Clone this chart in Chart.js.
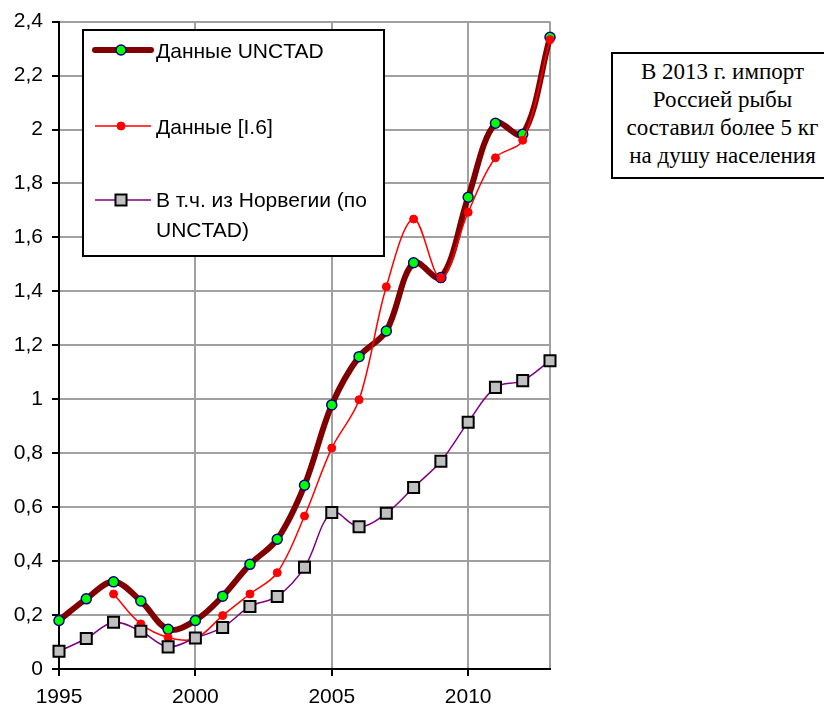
<!DOCTYPE html>
<html>
<head>
<meta charset="utf-8">
<script src="https://cdn.jsdelivr.net/npm/chart.js@4.4.1/dist/chart.umd.min.js"></script>
<style>
  html, body { margin: 0; padding: 0; background: #fff; overflow: hidden; }
  #wrap { position: relative; width: 824px; height: 710px; overflow: hidden; }
  #note {
    position: absolute; left: 611px; top: 52px; width: 213px; height: 127px;
    box-sizing: border-box; border: 2px solid #000; border-right: none; background: #fff;
    font-family: 'Liberation Serif', 'Times New Roman', serif; font-size: 23px;
    line-height: 28px; text-align: left; padding-top: 4px; color: #000;
    white-space: nowrap;
  }
  #note span { display: block; width: 219px; text-align: center; }
</style>
</head>
<body>
<div id="wrap">
  <canvas id="c" width="824" height="710"></canvas>
  <div id="note"><span>В 2013 г. импорт</span><span>Россией рыбы</span><span>составил более 5 кг</span><span>на душу населения</span></div>
</div>
<script>
// ---- data ----
const years = [1995,1996,1997,1998,1999,2000,2001,2002,2003,2004,2005,2006,2007,2008,2009,2010,2011,2012,2013];
const unctad = [0.18,0.26,0.323,0.252,0.147,0.18,0.27,0.388,0.481,0.681,0.979,1.158,1.253,1.506,1.451,1.749,2.023,1.982,2.342];
const dataI6 = [null,null,0.278,0.167,0.117,0.113,0.198,0.278,0.357,0.567,0.819,0.998,1.417,1.668,1.45,1.693,1.895,1.96,2.333];
const norway = [0.066,0.113,0.173,0.14,0.082,0.115,0.154,0.232,0.269,0.377,0.58,0.527,0.577,0.673,0.77,0.915,1.044,1.069,1.143];
const seriesNames = ['Данные UNCTAD', 'Данные [I.6]', 'В т.ч. из Норвегии (по', 'UNCTAD)'];
const xTicks = [1995, 2000, 2005, 2010, 2013];

const toPts = arr => years.map((y, i) => ({x: y, y: arr[i]})).filter(p => p.y !== null);
const FONT = "'Liberation Sans', Arial, sans-serif";

const legendPlugin = {
  id: 'boxLegend',
  afterDraw(chart) {
    const ctx = chart.ctx;
    ctx.save();
    const L = 83, T = 30, R = 384, B = 256;
    ctx.fillStyle = '#fff';
    ctx.fillRect(L, T, R - L, B - T);
    ctx.strokeStyle = '#000';
    ctx.lineWidth = 2;
    ctx.strokeRect(L, T, R - L, B - T);
    const items = [
      {y: 50, ds: 0},
      {y: 126, ds: 1},
      {y: 200, ds: 2}
    ];
    items.forEach(it => {
      const d = chart.data.datasets[it.ds];
      ctx.strokeStyle = d.borderColor;
      ctx.lineWidth = d.borderWidth;
      ctx.lineCap = it.ds === 0 ? 'round' : 'butt';
      ctx.beginPath();
      ctx.moveTo(95, it.y);
      ctx.lineTo(151, it.y);
      ctx.stroke();
      ctx.fillStyle = d.pointBackgroundColor;
      ctx.strokeStyle = d.pointBorderColor;
      ctx.lineWidth = d.pointBorderWidth;
      ctx.beginPath();
      if (d.pointStyle === 'rect') {
        const s = Math.SQRT1_2 * d.pointRadius;
        ctx.rect(121 - s, it.y - s, 2 * s, 2 * s);
      } else {
        ctx.arc(121, it.y, d.pointRadius, 0, Math.PI * 2);
      }
      ctx.fill();
      ctx.stroke();
    });
    ctx.fillStyle = '#000';
    ctx.font = '21px ' + FONT;
    ctx.textBaseline = 'middle';
    ctx.textAlign = 'left';
    ctx.fillText(seriesNames[0], 156, 52);
    ctx.fillText(seriesNames[1], 156, 128);
    ctx.fillText(seriesNames[2], 156, 201);
    ctx.fillText(seriesNames[3], 156, 231);
    ctx.restore();
  }
};

new Chart(document.getElementById('c'), {
  type: 'line',
  data: {
    datasets: [
      {
        label: seriesNames[0], data: toPts(unctad), order: 2,
        borderColor: '#800000', borderWidth: 6, tension: 0.35,
        pointStyle: 'circle', pointRadius: 5, pointBackgroundColor: '#00ff00',
        pointBorderColor: '#000080', pointBorderWidth: 1.5, clip: false
      },
      {
        label: seriesNames[1], data: toPts(dataI6), order: 1,
        borderColor: '#ff0000', borderWidth: 1.5, tension: 0.35,
        pointStyle: 'circle', pointRadius: 4, pointBackgroundColor: '#ff0000',
        pointBorderColor: '#ff0000', pointBorderWidth: 1, clip: false
      },
      {
        label: seriesNames[2] + ' ' + seriesNames[3], data: toPts(norway), order: 0,
        borderColor: '#800080', borderWidth: 1.5, tension: 0.35,
        pointStyle: 'rect', pointRadius: 7.8, pointBackgroundColor: '#c0c0c0',
        pointBorderColor: '#000000', pointBorderWidth: 2, clip: false
      }
    ]
  },
  options: {
    responsive: false,
    animation: false,
    events: [],
    layout: { padding: { top: 19, right: 274, left: 0, bottom: 0 } },
    plugins: { legend: { display: false }, tooltip: { enabled: false } },
    scales: {
      x: {
        type: 'linear', min: 1995, max: 2013,
        afterBuildTicks: s => { s.ticks = xTicks.map(v => ({value: v})); },
        afterFit: s => { s.height = 41; },
        ticks: {
          autoSkip: false, maxRotation: 0, padding: 9, color: '#000',
          font: { family: FONT, size: 21 },
          callback: v => (v === 2013 ? '' : String(v))
        },
        grid: {
          color: c => (c.tick && (c.tick.value === 1995) ? 'rgba(0,0,0,0)' : '#a0a0a0'),
          lineWidth: 2, tickLength: 7, tickWidth: 2,
          tickColor: c => (c.tick && c.tick.value === 2013 ? 'rgba(0,0,0,0)' : '#000')
        },
        border: { color: '#000', width: 2 }
      },
      y: {
        min: 0, max: 2.4,
        afterFit: s => { s.width = 59; },
        ticks: {
          stepSize: 0.1, color: '#000', padding: 9,
          font: { family: FONT, size: 21 },
          callback: v => {
            const k = Math.round(v * 10);
            if (k % 2 !== 0) return '';
            return String(Number(v.toFixed(1))).replace('.', ',');
          }
        },
        grid: {
          color: c => {
            const k = Math.round(c.tick.value * 10);
            return k % 2 === 0 ? '#a0a0a0' : '#d0d0d0';
          },
          lineWidth: 2, tickLength: 7, tickWidth: 2,
          tickColor: c => (Math.round(c.tick.value * 10) % 2 === 0 ? '#000' : 'rgba(0,0,0,0)')
        },
        border: { color: '#000', width: 2 }
      }
    }
  },
  plugins: [legendPlugin]
});
</script>
</body>
</html>
